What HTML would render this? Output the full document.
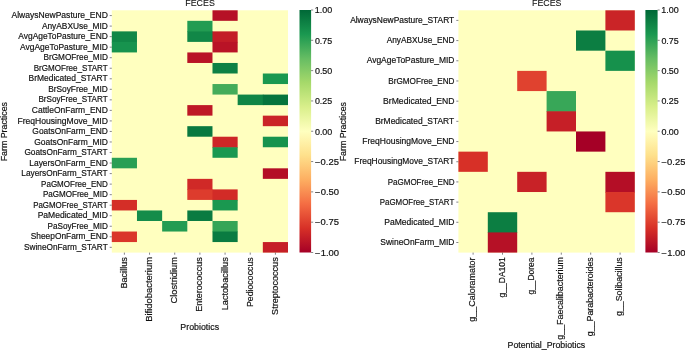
<!DOCTYPE html>
<html><head><meta charset="utf-8"><title>FECES heatmaps</title>
<style>
html,body{margin:0;padding:0;background:#fff;}
body{width:685px;height:350px;overflow:hidden;}
svg{display:block;}
svg text{font-family:"Liberation Sans",sans-serif;fill:#111;stroke:#111;stroke-width:0.18;}
svg text.t{stroke-width:0.1;}
svg line{stroke:#444;stroke-width:0.65;}
</style></head><body>
<svg style="will-change:transform" width="685" height="350" viewBox="0 0 685 350">
<defs><linearGradient id="cb" x1="0" y1="0" x2="0" y2="1"><stop offset="0%" stop-color="rgb(0,104,55)"/><stop offset="10%" stop-color="rgb(26,152,80)"/><stop offset="20%" stop-color="rgb(102,189,99)"/><stop offset="30%" stop-color="rgb(166,217,106)"/><stop offset="40%" stop-color="rgb(217,239,139)"/><stop offset="50%" stop-color="rgb(255,255,191)"/><stop offset="60%" stop-color="rgb(254,224,139)"/><stop offset="70%" stop-color="rgb(253,174,97)"/><stop offset="80%" stop-color="rgb(244,109,67)"/><stop offset="90%" stop-color="rgb(215,48,39)"/><stop offset="100%" stop-color="rgb(165,0,38)"/></linearGradient></defs>
<rect x="0" y="0" width="685" height="350" fill="#ffffff"/>
<rect x="111.80" y="10.30" width="176.20" height="242.30" fill="#ffffbf"/>
<rect x="212.49" y="10.30" width="25.17" height="10.53" fill="#b61126"/>
<rect x="187.31" y="20.83" width="25.17" height="11.13" fill="#229c52"/>
<rect x="111.80" y="31.37" width="25.17" height="11.13" fill="#118747"/>
<rect x="187.31" y="31.37" width="25.77" height="10.53" fill="#118747"/>
<rect x="212.49" y="31.37" width="25.17" height="11.13" fill="#c31d27"/>
<rect x="111.80" y="41.90" width="25.17" height="10.53" fill="#17934e"/>
<rect x="212.49" y="41.90" width="25.17" height="10.53" fill="#b91326"/>
<rect x="187.31" y="52.44" width="25.17" height="10.53" fill="#b91326"/>
<rect x="212.49" y="62.97" width="25.17" height="10.53" fill="#0d8044"/>
<rect x="262.83" y="73.51" width="25.17" height="10.53" fill="#1a9850"/>
<rect x="212.49" y="84.04" width="25.17" height="10.53" fill="#44ac5a"/>
<rect x="237.66" y="94.58" width="25.77" height="10.53" fill="#108546"/>
<rect x="262.83" y="94.58" width="25.17" height="10.53" fill="#06743d"/>
<rect x="187.31" y="105.11" width="25.17" height="10.53" fill="#be1826"/>
<rect x="262.83" y="115.65" width="25.17" height="10.53" fill="#ca2427"/>
<rect x="187.31" y="126.18" width="25.17" height="10.53" fill="#097940"/>
<rect x="212.49" y="136.72" width="25.17" height="11.13" fill="#cd2627"/>
<rect x="262.83" y="136.72" width="25.17" height="10.53" fill="#17934e"/>
<rect x="212.49" y="147.25" width="25.17" height="10.53" fill="#1a9850"/>
<rect x="111.80" y="157.79" width="25.17" height="10.53" fill="#299f54"/>
<rect x="262.83" y="168.32" width="25.17" height="10.53" fill="#b40e26"/>
<rect x="187.31" y="178.86" width="25.17" height="11.13" fill="#d02927"/>
<rect x="187.31" y="189.39" width="25.77" height="10.53" fill="#dd3c2d"/>
<rect x="212.49" y="189.39" width="25.17" height="11.13" fill="#d22b27"/>
<rect x="111.80" y="199.93" width="25.17" height="10.53" fill="#d42e27"/>
<rect x="212.49" y="199.93" width="25.17" height="10.53" fill="#1a9850"/>
<rect x="136.97" y="210.46" width="25.17" height="10.53" fill="#148c4a"/>
<rect x="187.31" y="210.46" width="25.17" height="10.53" fill="#0a7b41"/>
<rect x="162.14" y="221.00" width="25.17" height="10.53" fill="#229c52"/>
<rect x="212.49" y="221.00" width="25.17" height="11.13" fill="#35a557"/>
<rect x="111.80" y="231.53" width="25.17" height="10.53" fill="#da362a"/>
<rect x="212.49" y="231.53" width="25.17" height="10.53" fill="#0a7b41"/>
<rect x="262.83" y="242.07" width="25.17" height="10.53" fill="#c61f27"/>
<rect x="299.50" y="10.00" width="11.60" height="242.50" fill="url(#cb)"/>
<line x1="311.10" y1="10.00" x2="313.20" y2="10.00"/>
<text x="314.87" y="13.30" font-size="8.50" textLength="17.44" lengthAdjust="spacingAndGlyphs">1.00</text>
<line x1="311.10" y1="40.31" x2="313.20" y2="40.31"/>
<text x="314.91" y="43.61" font-size="8.50" textLength="17.28" lengthAdjust="spacingAndGlyphs">0.75</text>
<line x1="311.10" y1="70.62" x2="313.20" y2="70.62"/>
<text x="314.91" y="73.92" font-size="8.50" textLength="17.40" lengthAdjust="spacingAndGlyphs">0.50</text>
<line x1="311.10" y1="100.94" x2="313.20" y2="100.94"/>
<text x="314.91" y="104.24" font-size="8.50" textLength="17.28" lengthAdjust="spacingAndGlyphs">0.25</text>
<line x1="311.10" y1="131.25" x2="313.20" y2="131.25"/>
<text x="314.91" y="134.55" font-size="8.50" textLength="17.40" lengthAdjust="spacingAndGlyphs">0.00</text>
<line x1="311.10" y1="161.56" x2="313.20" y2="161.56"/>
<text x="315.12" y="164.86" font-size="8.50" textLength="23.80" lengthAdjust="spacingAndGlyphs">−0.25</text>
<line x1="311.10" y1="191.88" x2="313.20" y2="191.88"/>
<text x="315.11" y="195.18" font-size="8.50" textLength="23.92" lengthAdjust="spacingAndGlyphs">−0.50</text>
<line x1="311.10" y1="222.19" x2="313.20" y2="222.19"/>
<text x="315.12" y="225.49" font-size="8.50" textLength="23.80" lengthAdjust="spacingAndGlyphs">−0.75</text>
<line x1="311.10" y1="252.50" x2="313.20" y2="252.50"/>
<text x="315.11" y="255.80" font-size="8.50" textLength="23.92" lengthAdjust="spacingAndGlyphs">−1.00</text>
<line x1="109.70" y1="15.57" x2="111.80" y2="15.57"/>
<text x="11.50" y="18.17" font-size="8.50" textLength="96.40" lengthAdjust="spacingAndGlyphs">AlwaysNewPasture_END</text>
<line x1="109.70" y1="26.10" x2="111.80" y2="26.10"/>
<text x="41.90" y="28.70" font-size="8.50" textLength="65.99" lengthAdjust="spacingAndGlyphs">AnyABXUse_MID</text>
<line x1="109.70" y1="36.64" x2="111.80" y2="36.64"/>
<text x="18.30" y="39.24" font-size="8.50" textLength="89.58" lengthAdjust="spacingAndGlyphs">AvgAgeToPasture_END</text>
<line x1="109.70" y1="47.17" x2="111.80" y2="47.17"/>
<text x="20.06" y="49.77" font-size="8.50" textLength="87.83" lengthAdjust="spacingAndGlyphs">AvgAgeToPasture_MID</text>
<line x1="109.70" y1="57.71" x2="111.80" y2="57.71"/>
<text x="43.48" y="60.31" font-size="8.50" textLength="64.42" lengthAdjust="spacingAndGlyphs">BrGMOFree_MID</text>
<line x1="109.70" y1="68.24" x2="111.80" y2="68.24"/>
<text x="33.74" y="70.84" font-size="8.50" textLength="73.94" lengthAdjust="spacingAndGlyphs">BrGMOFree_START</text>
<line x1="109.70" y1="78.78" x2="111.80" y2="78.78"/>
<text x="28.54" y="81.38" font-size="8.50" textLength="79.13" lengthAdjust="spacingAndGlyphs">BrMedicated_START</text>
<line x1="109.70" y1="89.31" x2="111.80" y2="89.31"/>
<text x="48.15" y="91.91" font-size="8.50" textLength="59.75" lengthAdjust="spacingAndGlyphs">BrSoyFree_MID</text>
<line x1="109.70" y1="99.85" x2="111.80" y2="99.85"/>
<text x="38.45" y="102.45" font-size="8.50" textLength="69.22" lengthAdjust="spacingAndGlyphs">BrSoyFree_START</text>
<line x1="109.70" y1="110.38" x2="111.80" y2="110.38"/>
<text x="31.75" y="112.98" font-size="8.50" textLength="76.15" lengthAdjust="spacingAndGlyphs">CattleOnFarm_END</text>
<line x1="109.70" y1="120.92" x2="111.80" y2="120.92"/>
<text x="17.50" y="123.52" font-size="8.50" textLength="90.39" lengthAdjust="spacingAndGlyphs">FreqHousingMove_MID</text>
<line x1="109.70" y1="131.45" x2="111.80" y2="131.45"/>
<text x="32.36" y="134.05" font-size="8.50" textLength="75.54" lengthAdjust="spacingAndGlyphs">GoatsOnFarm_END</text>
<line x1="109.70" y1="141.98" x2="111.80" y2="141.98"/>
<text x="34.16" y="144.58" font-size="8.50" textLength="73.76" lengthAdjust="spacingAndGlyphs">GoatsOnFarm_MID</text>
<line x1="109.70" y1="152.52" x2="111.80" y2="152.52"/>
<text x="24.45" y="155.12" font-size="8.50" textLength="83.23" lengthAdjust="spacingAndGlyphs">GoatsOnFarm_START</text>
<line x1="109.70" y1="163.05" x2="111.80" y2="163.05"/>
<text x="29.27" y="165.65" font-size="8.50" textLength="78.62" lengthAdjust="spacingAndGlyphs">LayersOnFarm_END</text>
<line x1="109.70" y1="173.59" x2="111.80" y2="173.59"/>
<text x="21.32" y="176.19" font-size="8.50" textLength="86.35" lengthAdjust="spacingAndGlyphs">LayersOnFarm_START</text>
<line x1="109.70" y1="184.12" x2="111.80" y2="184.12"/>
<text x="41.10" y="186.72" font-size="8.50" textLength="66.77" lengthAdjust="spacingAndGlyphs">PaGMOFree_END</text>
<line x1="109.70" y1="194.66" x2="111.80" y2="194.66"/>
<text x="42.89" y="197.26" font-size="8.50" textLength="64.99" lengthAdjust="spacingAndGlyphs">PaGMOFree_MID</text>
<line x1="109.70" y1="205.19" x2="111.80" y2="205.19"/>
<text x="33.19" y="207.79" font-size="8.50" textLength="74.47" lengthAdjust="spacingAndGlyphs">PaGMOFree_START</text>
<line x1="109.70" y1="215.73" x2="111.80" y2="215.73"/>
<text x="37.66" y="218.33" font-size="8.50" textLength="70.24" lengthAdjust="spacingAndGlyphs">PaMedicated_MID</text>
<line x1="109.70" y1="226.26" x2="111.80" y2="226.26"/>
<text x="47.57" y="228.86" font-size="8.50" textLength="60.32" lengthAdjust="spacingAndGlyphs">PaSoyFree_MID</text>
<line x1="109.70" y1="236.80" x2="111.80" y2="236.80"/>
<text x="30.72" y="239.40" font-size="8.50" textLength="77.16" lengthAdjust="spacingAndGlyphs">SheepOnFarm_END</text>
<line x1="109.70" y1="247.33" x2="111.80" y2="247.33"/>
<text x="24.01" y="249.93" font-size="8.50" textLength="83.68" lengthAdjust="spacingAndGlyphs">SwineOnFarm_START</text>
<line x1="124.39" y1="252.60" x2="124.39" y2="254.70"/>
<text x="126.16" y="287.75" font-size="8.50" textLength="31.20" lengthAdjust="spacingAndGlyphs" transform="rotate(-90 126.89 287.75)">Bacillus</text>
<line x1="149.56" y1="252.60" x2="149.56" y2="254.70"/>
<text x="151.31" y="320.96" font-size="8.50" textLength="64.70" lengthAdjust="spacingAndGlyphs" transform="rotate(-90 152.06 320.96)">Bifidobacterium</text>
<line x1="174.73" y1="252.60" x2="174.73" y2="254.70"/>
<text x="176.76" y="303.05" font-size="8.50" textLength="46.48" lengthAdjust="spacingAndGlyphs" transform="rotate(-90 177.23 303.05)">Clostridium</text>
<line x1="199.90" y1="252.60" x2="199.90" y2="254.70"/>
<text x="201.68" y="311.05" font-size="8.50" textLength="54.47" lengthAdjust="spacingAndGlyphs" transform="rotate(-90 202.40 311.05)">Enterococcus</text>
<line x1="225.07" y1="252.60" x2="225.07" y2="254.70"/>
<text x="226.84" y="309.58" font-size="8.50" textLength="53.05" lengthAdjust="spacingAndGlyphs" transform="rotate(-90 227.57 309.58)">Lactobacillus</text>
<line x1="250.24" y1="252.60" x2="250.24" y2="254.70"/>
<text x="252.04" y="306.40" font-size="8.50" textLength="49.81" lengthAdjust="spacingAndGlyphs" transform="rotate(-90 252.74 306.40)">Pediococcus</text>
<line x1="275.41" y1="252.60" x2="275.41" y2="254.70"/>
<text x="277.50" y="314.52" font-size="8.50" textLength="57.66" lengthAdjust="spacingAndGlyphs" transform="rotate(-90 277.91 314.52)">Streptococcus</text>
<text x="180.35" y="329.60" font-size="8.50" textLength="38.70" lengthAdjust="spacingAndGlyphs">Probiotics</text>
<text x="6.49" y="160.64" font-size="8.50" textLength="59.39" lengthAdjust="spacingAndGlyphs" transform="rotate(-90 7.20 160.64)">Farm Practices</text>
<text class="t" x="185.30" y="6.40" font-size="9.90" textLength="29.49" lengthAdjust="spacingAndGlyphs">FECES</text>
<rect x="458.40" y="10.30" width="176.40" height="242.30" fill="#ffffbf"/>
<rect x="605.40" y="10.30" width="29.40" height="20.19" fill="#ca2427"/>
<rect x="576.00" y="30.49" width="29.40" height="20.19" fill="#0c7e42"/>
<rect x="605.40" y="50.68" width="29.40" height="20.19" fill="#16914c"/>
<rect x="517.20" y="70.88" width="29.40" height="20.19" fill="#e0422f"/>
<rect x="546.60" y="91.07" width="29.40" height="20.79" fill="#38a758"/>
<rect x="546.60" y="111.26" width="29.40" height="20.19" fill="#c61f27"/>
<rect x="576.00" y="131.45" width="29.40" height="20.19" fill="#a50026"/>
<rect x="458.40" y="151.64" width="29.40" height="20.19" fill="#d73027"/>
<rect x="517.20" y="171.83" width="29.40" height="20.19" fill="#c82227"/>
<rect x="605.40" y="171.83" width="29.40" height="20.79" fill="#b40e26"/>
<rect x="605.40" y="192.03" width="29.40" height="20.19" fill="#da362a"/>
<rect x="487.80" y="212.22" width="29.40" height="20.79" fill="#0c7e42"/>
<rect x="487.80" y="232.41" width="29.40" height="20.19" fill="#b61126"/>
<rect x="645.40" y="10.00" width="12.20" height="242.50" fill="url(#cb)"/>
<line x1="657.60" y1="10.00" x2="659.70" y2="10.00"/>
<text x="661.37" y="13.30" font-size="8.50" textLength="17.44" lengthAdjust="spacingAndGlyphs">1.00</text>
<line x1="657.60" y1="40.31" x2="659.70" y2="40.31"/>
<text x="661.41" y="43.61" font-size="8.50" textLength="17.28" lengthAdjust="spacingAndGlyphs">0.75</text>
<line x1="657.60" y1="70.62" x2="659.70" y2="70.62"/>
<text x="661.41" y="73.92" font-size="8.50" textLength="17.40" lengthAdjust="spacingAndGlyphs">0.50</text>
<line x1="657.60" y1="100.94" x2="659.70" y2="100.94"/>
<text x="661.41" y="104.24" font-size="8.50" textLength="17.28" lengthAdjust="spacingAndGlyphs">0.25</text>
<line x1="657.60" y1="131.25" x2="659.70" y2="131.25"/>
<text x="661.41" y="134.55" font-size="8.50" textLength="17.40" lengthAdjust="spacingAndGlyphs">0.00</text>
<line x1="657.60" y1="161.56" x2="659.70" y2="161.56"/>
<text x="661.62" y="164.86" font-size="8.50" textLength="23.80" lengthAdjust="spacingAndGlyphs">−0.25</text>
<line x1="657.60" y1="191.88" x2="659.70" y2="191.88"/>
<text x="661.61" y="195.18" font-size="8.50" textLength="23.92" lengthAdjust="spacingAndGlyphs">−0.50</text>
<line x1="657.60" y1="222.19" x2="659.70" y2="222.19"/>
<text x="661.62" y="225.49" font-size="8.50" textLength="23.80" lengthAdjust="spacingAndGlyphs">−0.75</text>
<line x1="657.60" y1="252.50" x2="659.70" y2="252.50"/>
<text x="661.61" y="255.80" font-size="8.50" textLength="23.92" lengthAdjust="spacingAndGlyphs">−1.00</text>
<line x1="456.30" y1="20.40" x2="458.40" y2="20.40"/>
<text x="350.14" y="23.00" font-size="8.50" textLength="104.14" lengthAdjust="spacingAndGlyphs">AlwaysNewPasture_START</text>
<line x1="456.30" y1="40.59" x2="458.40" y2="40.59"/>
<text x="386.70" y="43.19" font-size="8.50" textLength="67.78" lengthAdjust="spacingAndGlyphs">AnyABXUse_END</text>
<line x1="456.30" y1="60.78" x2="458.40" y2="60.78"/>
<text x="366.66" y="63.38" font-size="8.50" textLength="87.83" lengthAdjust="spacingAndGlyphs">AvgAgeToPasture_MID</text>
<line x1="456.30" y1="80.97" x2="458.40" y2="80.97"/>
<text x="388.29" y="83.57" font-size="8.50" textLength="66.20" lengthAdjust="spacingAndGlyphs">BrGMOFree_END</text>
<line x1="456.30" y1="101.16" x2="458.40" y2="101.16"/>
<text x="383.05" y="103.76" font-size="8.50" textLength="71.45" lengthAdjust="spacingAndGlyphs">BrMedicated_END</text>
<line x1="456.30" y1="121.35" x2="458.40" y2="121.35"/>
<text x="375.14" y="123.95" font-size="8.50" textLength="79.13" lengthAdjust="spacingAndGlyphs">BrMedicated_START</text>
<line x1="456.30" y1="141.55" x2="458.40" y2="141.55"/>
<text x="362.30" y="144.15" font-size="8.50" textLength="92.21" lengthAdjust="spacingAndGlyphs">FreqHousingMove_END</text>
<line x1="456.30" y1="161.74" x2="458.40" y2="161.74"/>
<text x="354.35" y="164.34" font-size="8.50" textLength="99.94" lengthAdjust="spacingAndGlyphs">FreqHousingMove_START</text>
<line x1="456.30" y1="181.93" x2="458.40" y2="181.93"/>
<text x="387.70" y="184.53" font-size="8.50" textLength="66.77" lengthAdjust="spacingAndGlyphs">PaGMOFree_END</text>
<line x1="456.30" y1="202.12" x2="458.40" y2="202.12"/>
<text x="379.79" y="204.72" font-size="8.50" textLength="74.47" lengthAdjust="spacingAndGlyphs">PaGMOFree_START</text>
<line x1="456.30" y1="222.31" x2="458.40" y2="222.31"/>
<text x="384.26" y="224.91" font-size="8.50" textLength="70.24" lengthAdjust="spacingAndGlyphs">PaMedicated_MID</text>
<line x1="456.30" y1="242.50" x2="458.40" y2="242.50"/>
<text x="380.36" y="245.10" font-size="8.50" textLength="74.12" lengthAdjust="spacingAndGlyphs">SwineOnFarm_MID</text>
<line x1="473.10" y1="252.60" x2="473.10" y2="254.70"/>
<text x="474.84" y="321.33" font-size="8.50" textLength="64.18" lengthAdjust="spacingAndGlyphs" transform="rotate(-90 475.20 321.33)">g__Caloramator</text>
<line x1="502.50" y1="252.60" x2="502.50" y2="254.70"/>
<text x="504.26" y="297.05" font-size="8.50" textLength="40.19" lengthAdjust="spacingAndGlyphs" transform="rotate(-90 504.60 297.05)">g__DA101</text>
<line x1="531.90" y1="252.60" x2="531.90" y2="254.70"/>
<text x="533.66" y="294.24" font-size="8.50" textLength="36.95" lengthAdjust="spacingAndGlyphs" transform="rotate(-90 534.00 294.24)">g__Dorea</text>
<line x1="561.30" y1="252.60" x2="561.30" y2="254.70"/>
<text x="563.04" y="339.40" font-size="8.50" textLength="82.72" lengthAdjust="spacingAndGlyphs" transform="rotate(-90 563.40 339.40)">g__Faecalibacterium</text>
<line x1="590.70" y1="252.60" x2="590.70" y2="254.70"/>
<text x="592.45" y="335.81" font-size="8.50" textLength="78.88" lengthAdjust="spacingAndGlyphs" transform="rotate(-90 592.80 335.81)">g__Parabacteroides</text>
<line x1="620.10" y1="252.60" x2="620.10" y2="254.70"/>
<text x="621.85" y="315.70" font-size="8.50" textLength="58.77" lengthAdjust="spacingAndGlyphs" transform="rotate(-90 622.20 315.70)">g__Solibacillus</text>
<text x="507.54" y="347.70" font-size="8.50" textLength="77.72" lengthAdjust="spacingAndGlyphs">Potential_Probiotics</text>
<text x="345.29" y="160.64" font-size="8.50" textLength="59.39" lengthAdjust="spacingAndGlyphs" transform="rotate(-90 346.00 160.64)">Farm Practices</text>
<text class="t" x="532.00" y="6.40" font-size="9.90" textLength="29.49" lengthAdjust="spacingAndGlyphs">FECES</text>
</svg>
</body></html>
